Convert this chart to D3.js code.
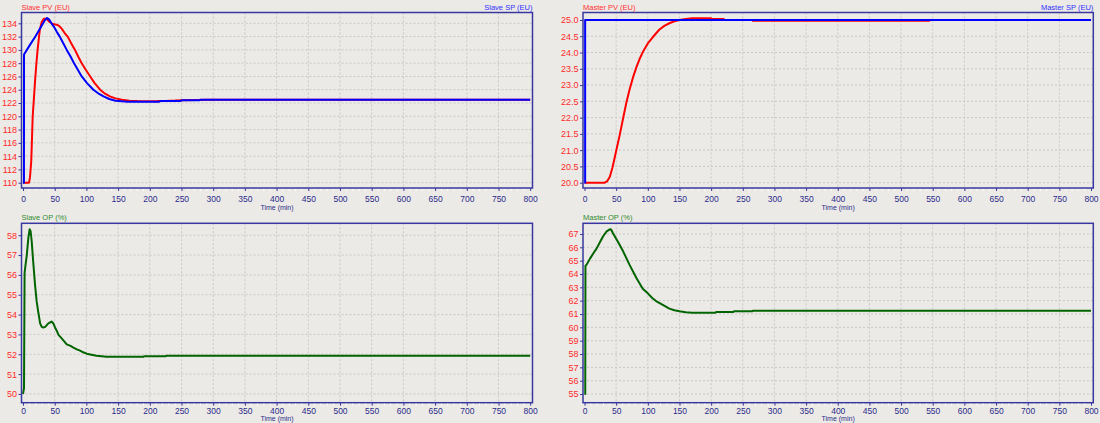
<!DOCTYPE html>
<html>
<head>
<meta charset="utf-8">
<script src="https://cdn.jsdelivr.net/npm/d3@7"></script>
<style>
  html, body { margin: 0; padding: 0; background: #ECEAE6; }
  svg { display: block; }
  text { font-family: "Liberation Sans", Arial, sans-serif; }
</style>
</head>
<body>
<svg id="chart" width="1100" height="423"></svg>
<script>
// ---------------- DATA ----------------
const timeTicks = [0, 50, 100, 150, 200, 250, 300, 350, 400, 450, 500, 550, 600, 650, 700, 750, 800];

const slavePvTicks = [110, 112, 114, 116, 118, 120, 122, 124, 126, 128, 130, 132, 134];
const masterPvTicks = [20.0, 20.5, 21.0, 21.5, 22.0, 22.5, 23.0, 23.5, 24.0, 24.5, 25.0];
const slaveOpTicks = [50, 51, 52, 53, 54, 55, 56, 57, 58];
const masterOpTicks = [55, 56, 57, 58, 59, 60, 61, 62, 63, 64, 65, 66, 67];

// [time (min), value]
const slavePV = [[0,110],[9.5,110],[11,110.8],[13,113.2],[15.3,120],[17,122.4],[19,125.3],[21,127.8],[23,130],[26.5,133],[29.5,134.2],[33,134.7],[36,134.7],[38,134.6],[42,134.2],[47,133.9],[53,133.8],[57,133.6],[61,133.2],[66,132.5],[70.5,132],[76,131],[82,130],[87,129],[92.6,128],[99,127],[106,126],[113,125],[121.6,124],[128,123.5],[137,123],[146,122.7],[156,122.5],[168,122.35],[180,122.3],[212,122.25],[213,122.32],[225,122.32],[240,122.36],[250,122.42],[275,122.46],[290,122.5],[800,122.5]];
const slaveSP = [[0,110],[1.5,110],[1.6,129.3],[10,130.6],[20,132.1],[28,133.4],[34,134.4],[38,134.8],[41,134.6],[45,134.0],[50,133.3],[54,132.6],[58,132],[63.5,131],[69,130],[75,129],[80.5,128],[86.5,127],[92.6,126],[101,125],[111,124],[118,123.5],[127,123],[136,122.6],[146,122.35],[156,122.25],[165,122.2],[215,122.2],[217,122.3],[248,122.3],[250,122.4],[278,122.4],[280,122.5],[800,122.5]];

const masterPV = [[0,20],[32,20],[36,20.05],[40,20.18],[44,20.45],[48,20.8],[52,21.15],[56,21.5],[61,21.98],[66,22.45],[71,22.85],[77,23.26],[82,23.55],[87,23.8],[93,24.05],[100,24.28],[109,24.5],[118,24.7],[126,24.82],[134,24.9],[142,24.96],[150,25.0],[160,25.03],[170,25.05],[200,25.05],[201,25.03],[220,25.03],[221,25.0],[265,25.0],[266,24.975],[345,24.975],[346,24.98],[545,24.98],[546,25.0],[800,25.0]];
const masterSP = [[0,20],[1,20],[1,25],[800,25]];

const slaveOP = [[0,50],[1.6,50.3],[2.5,56.1],[4,56.5],[6,57.0],[8.4,57.85],[10.5,58.3],[12,58.2],[13.7,57.7],[16,56.7],[19,55.5],[21.6,54.65],[24,54.15],[27,53.56],[29.5,53.38],[32,53.35],[35,53.38],[40,53.56],[45,53.65],[48,53.55],[50.5,53.35],[53,53.2],[56,52.98],[61,52.8],[65,52.65],[69,52.5],[75,52.42],[79.5,52.34],[85,52.25],[90,52.18],[95,52.1],[100.5,52.03],[108,51.98],[116,51.93],[124,51.9],[132,51.87],[190,51.87],[191,51.9],[225,51.9],[226,51.93],[800,51.93]];
const masterOP = [[0,55],[1.2,55],[1.5,64.6],[3.6,64.72],[8.9,65.17],[14,65.55],[19,65.9],[24.5,66.4],[29.7,66.85],[35,67.2],[40,67.35],[42,67.33],[45,67.05],[53,66.4],[61,65.7],[71,64.7],[82,63.7],[92,62.9],[100,62.55],[107,62.2],[113,61.97],[123,61.7],[134,61.4],[142,61.28],[150,61.2],[160,61.13],[170,61.1],[207,61.1],[208,61.15],[235,61.15],[236,61.2],[265,61.2],[266,61.25],[800,61.25]];

// ---------------- LAYOUT ----------------
const C = {
  bg: "#ECEAE6", frame: "#3838A0", grid: "#C8C8C8",
  xLabel: "#2B2B8C", yLabel: "#FF2A2A",
  red: "#FF0000", blue: "#0000FF", green: "#006400",
  titleRed: "#FF3030", titleBlue: "#3030FF", titleGreen: "#2E8B2E"
};

const panels = [
  { left: 21.5, right: 532.5, top: 12.5, bottom: 188, domain: [109.2, 135.63], ticks: slavePvTicks, fmt: d3.format("d"),
    tickBase: 13.6, timeBase: 22,
    titleL: "Slave PV (EU)", colL: C.titleRed, titleR: "Slave SP (EU)", colR: C.titleBlue,
    series: [{ data: slavePV, color: C.red }, { data: slaveSP, color: C.blue }] },
  { left: 583, right: 1093.3, top: 12.5, bottom: 188, domain: [19.837, 25.23], ticks: masterPvTicks, fmt: d3.format(".1f"),
    tickBase: 13.6, timeBase: 22,
    titleL: "Master PV (EU)", colL: C.titleRed, titleR: "Master SP (EU)", colR: C.titleBlue,
    series: [{ data: masterPV, color: C.red }, { data: masterSP, color: C.blue }] },
  { left: 21.5, right: 532.5, top: 223.3, bottom: 402.7, domain: [49.56, 58.6], ticks: slaveOpTicks, fmt: d3.format("d"),
    tickBase: 11.3, timeBase: 18.7,
    titleL: "Slave OP (%)", colL: C.titleGreen,
    series: [{ data: slaveOP, color: C.green }] },
  { left: 583, right: 1093.3, top: 223.3, bottom: 402.7, domain: [54.35, 67.8], ticks: masterOpTicks, fmt: d3.format("d"),
    tickBase: 11.3, timeBase: 18.7,
    titleL: "Master OP (%)", colL: C.titleGreen,
    series: [{ data: masterOP, color: C.green }] }
];

const svg = d3.select("#chart");
svg.append("rect").attr("width", 1100).attr("height", 423).attr("fill", C.bg);

panels.forEach(p => {
  const x = d3.scaleLinear().domain([0, 800]).range([p.left + 1.5, p.right - 2.3]);
  const y = d3.scaleLinear().domain(p.domain).range([p.bottom, p.top]);
  const g = svg.append("g");

  // grid
  g.append("g").selectAll("line").data(timeTicks.slice(1, -1)).join("line")
    .attr("x1", d => x(d)).attr("x2", d => x(d)).attr("y1", p.top).attr("y2", p.bottom)
    .attr("stroke", C.grid).attr("stroke-width", 1).attr("stroke-dasharray", "2,2");
  g.append("g").selectAll("line").data(p.ticks).join("line")
    .attr("x1", p.left).attr("x2", p.right).attr("y1", d => y(d)).attr("y2", d => y(d))
    .attr("stroke", C.grid).attr("stroke-width", 1).attr("stroke-dasharray", "2,2");

  // clip
  const cid = "clip" + Math.round(p.left) + "_" + Math.round(p.top);
  svg.append("clipPath").attr("id", cid).append("rect")
    .attr("x", p.left).attr("y", p.top).attr("width", p.right - p.left).attr("height", p.bottom - p.top);

  const line = d3.line().x(d => x(d[0])).y(d => y(d[1]));
  const lg = g.append("g").attr("clip-path", `url(#${cid})`);
  p.series.forEach(s => {
    lg.append("path").attr("d", line(s.data)).attr("fill", "none")
      .attr("stroke", s.color).attr("stroke-width", 2).attr("stroke-linejoin", "round");
  });

  // frame
  g.append("rect").attr("x", p.left).attr("y", p.top).attr("width", p.right - p.left).attr("height", p.bottom - p.top)
    .attr("fill", "none").attr("stroke", C.frame).attr("stroke-width", 1.5);

  // x axis (minor ticks)
  const minor = d3.range(0, 801, 10).filter(d => d % 50 !== 0);
  g.append("g").selectAll("line").data(minor).join("line")
    .attr("x1", d => x(d)).attr("x2", d => x(d)).attr("y1", p.bottom + 1).attr("y2", p.bottom + 3)
    .attr("stroke", "#FFFFFF").attr("stroke-width", 1);

  const xAxis = d3.axisBottom(x).tickValues(timeTicks).tickSize(3).tickSizeOuter(0).tickFormat(d3.format("d"));
  const xa = g.append("g").attr("transform", `translate(0,${p.bottom})`).call(xAxis);
  xa.select(".domain").remove();
  xa.selectAll(".tick line").attr("stroke", C.frame);
  xa.selectAll(".tick text").attr("fill", C.xLabel).attr("font-size", "8.5px")
    .attr("y", p.tickBase).attr("dy", null)
    .attr("font-family", "'Liberation Sans', Arial, sans-serif");

  g.append("text").attr("x", (p.left + p.right) / 2).attr("y", p.bottom + p.timeBase)
    .attr("text-anchor", "middle").attr("fill", C.xLabel).attr("font-size", "7px").text("Time (min)");

  // y axis
  const yAxis = d3.axisLeft(y).tickValues(p.ticks).tickSize(3).tickSizeOuter(0).tickFormat(p.fmt);
  const ya = g.append("g").attr("transform", `translate(${p.left},0)`).call(yAxis);
  ya.select(".domain").remove();
  ya.selectAll(".tick line").attr("stroke", C.frame);
  ya.selectAll(".tick text").attr("fill", C.yLabel).attr("font-size", "9px").attr("x", -4.5)
    .attr("font-family", "'Liberation Sans', Arial, sans-serif");

  // titles
  g.append("text").attr("x", p.left).attr("y", p.top - 3).attr("fill", p.colL)
    .attr("font-size", "7.5px").text(p.titleL);
  if (p.titleR) {
    g.append("text").attr("x", p.right).attr("y", p.top - 3).attr("fill", p.colR)
      .attr("text-anchor", "end").attr("font-size", "7.5px").text(p.titleR);
  }
});
</script>
</body>
</html>
